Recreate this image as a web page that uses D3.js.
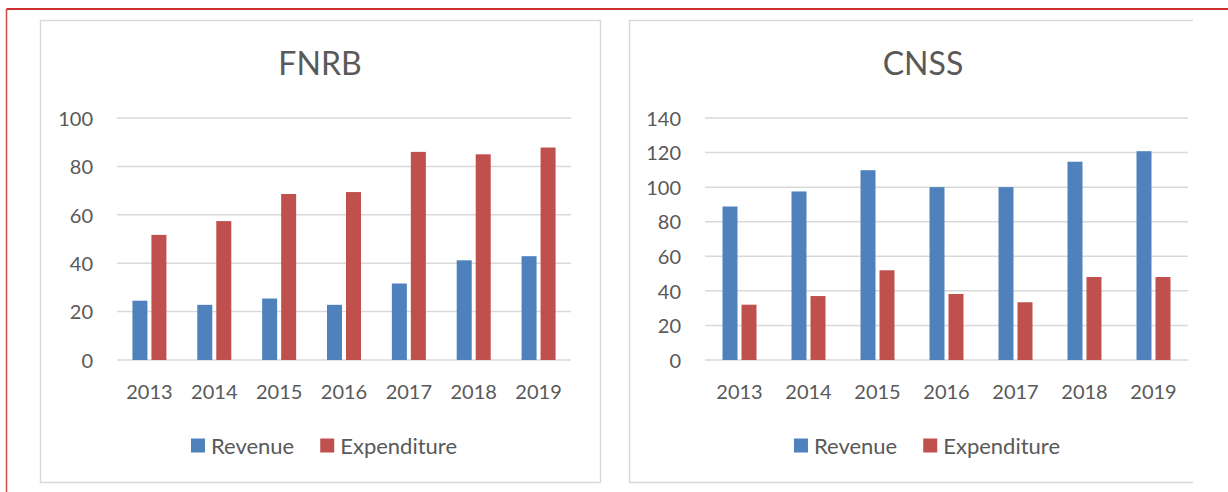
<!DOCTYPE html>
<html>
<head>
<meta charset="utf-8">
<script src="https://cdn.jsdelivr.net/npm/d3@7"></script>
<style>
  html, body { margin: 0; padding: 0; background: #fff; }
  svg { display: block; font-family: Lato, "Open Sans", sans-serif; }
</style>
</head>
<body>
<svg id="chart" width="1228" height="492"></svg>
<script>
// ---- Data ----
const years = ["2013", "2014", "2015", "2016", "2017", "2018", "2019"];
const seriesNames = ["Revenue", "Expenditure"];
const seriesColors = ["#4F81BD", "#C0504D"];

const fnrbRevenue     = [24.5, 22.8, 25.4, 22.8, 31.6, 41.2, 42.9];
const fnrbExpenditure = [51.7, 57.4, 68.6, 69.4, 86.0, 85.0, 87.8];
const fnrbTicks = [0, 20, 40, 60, 80, 100];

const cnssRevenue     = [88.8, 97.5, 109.8, 100, 100, 114.7, 120.8];
const cnssExpenditure = [32.0, 37.0, 51.9, 38.2, 33.4, 48.0, 48.0];
const cnssTicks = [0, 20, 40, 60, 80, 100, 120, 140];

// ---- Drawing ----
const svg = d3.select("#chart");
const textColor = "#595959";
const gridColor = "#d9d9d9";

// outer red frame (top and left lines)
svg.append("line").attr("x1", 6.5).attr("y1", 9).attr("x2", 1228).attr("y2", 9)
  .attr("stroke", "#c9302c").attr("stroke-width", 2);
svg.append("line").attr("x1", 6.5).attr("y1", 9).attr("x2", 6.5).attr("y2", 492)
  .attr("stroke", "#d24a47").attr("stroke-width", 1.5);

function drawChart(cfg) {
  const g = svg.append("g");
  const box = cfg.box;
  const clipId = "clip-" + cfg.title;
  svg.append("clipPath").attr("id", clipId)
    .append("rect").attr("x", box.x - 2).attr("y", box.y - 2)
    .attr("width", cfg.clipRight - box.x + 2).attr("height", box.h + 4);
  const cg = g.append("g").attr("clip-path", `url(#${clipId})`);

  cg.append("rect")
    .attr("x", box.x + 0.5).attr("y", box.y + 0.5)
    .attr("width", box.w).attr("height", box.h)
    .attr("fill", "#fff").attr("stroke", gridColor).attr("stroke-width", 1.5);

  const cx = box.x + box.w / 2;

  // title
  cg.append("text").attr("x", cx).attr("y", 75)
    .attr("text-anchor", "middle").attr("font-size", 32)
    .attr("fill", textColor).text(cfg.title);

  const x = d3.scaleBand().domain(years).range([cfg.plotLeft, cfg.plotRight]).padding(0);
  const groupW = 34;
  const xSub = d3.scaleBand().domain(seriesNames).range([0, groupW]).paddingInner(2 - groupW / 19);
  const y = d3.scaleLinear().domain([0, cfg.max]).range([360, 118]);

  // gridlines
  cg.append("g").selectAll("line").data(cfg.ticks).join("line")
    .attr("x1", cfg.plotLeft).attr("x2", cfg.plotRight)
    .attr("y1", d => y(d)).attr("y2", d => y(d))
    .attr("stroke", gridColor).attr("stroke-width", 1.5);

  // y tick labels via axis
  const yAxis = d3.axisLeft(y).tickValues(cfg.ticks).tickSize(0).tickPadding(0);
  const ya = cg.append("g").attr("transform", `translate(${cfg.plotLeft - 24},0)`).call(yAxis);
  ya.select(".domain").remove();
  ya.selectAll("text").attr("font-size", 20).attr("fill", textColor)
    .attr("font-family", "Lato, 'Open Sans', sans-serif").attr("dy", "0.36em");

  // bars
  const data = years.map((yr, i) => ({ year: yr, values: [cfg.series[0][i], cfg.series[1][i]] }));
  const groups = cg.append("g").selectAll("g").data(data).join("g")
    .attr("transform", d => `translate(${x(d.year) + (x.bandwidth() - groupW) / 2},0)`);
  groups.selectAll("rect").data(d => d.values.map((v, k) => ({ name: seriesNames[k], v, k })))
    .join("rect")
    .attr("x", d => xSub(d.name))
    .attr("width", xSub.bandwidth())
    .attr("y", d => y(d.v))
    .attr("height", d => y(0) - y(d.v))
    .attr("fill", d => seriesColors[d.k]);

  // x labels via axis
  const xAxis = d3.axisBottom(x).tickSize(0).tickPadding(0);
  const xa = cg.append("g").attr("transform", "translate(0,398.5)").call(xAxis);
  xa.select(".domain").remove();
  xa.selectAll("text").attr("font-size", 20).attr("fill", textColor)
    .attr("font-family", "Lato, 'Open Sans', sans-serif").attr("dy", 0);

  // legend
  const leg = cg.append("g");
  let items = [];
  seriesNames.forEach((name, k) => {
    const it = leg.append("g");
    it.append("rect").attr("width", 14).attr("height", 14).attr("y", 438.5).attr("fill", seriesColors[k]);
    const t = it.append("text").attr("x", 20).attr("y", 453.5).attr("font-size", 22)
      .attr("fill", textColor).text(name);
    items.push({ it, w: 20 + t.node().getComputedTextLength() });
  });
  const gap = 26;
  const total = d3.sum(items, d => d.w) + gap * (items.length - 1);
  let pos = cx + 4 - total / 2;
  items.forEach(d => { d.it.attr("transform", `translate(${pos},0)`); pos += d.w + gap; });
}

drawChart({
  title: "FNRB",
  box: { x: 40, y: 20, w: 560, h: 462 },
  clipRight: 604,
  plotLeft: 117, plotRight: 571,
  max: 100, ticks: fnrbTicks,
  series: [fnrbRevenue, fnrbExpenditure]
});

drawChart({
  title: "CNSS",
  box: { x: 629, y: 20, w: 588, h: 462 },
  clipRight: 1193,
  plotLeft: 705, plotRight: 1188,
  max: 140, ticks: cnssTicks,
  series: [cnssRevenue, cnssExpenditure]
});
</script>
</body>
</html>
